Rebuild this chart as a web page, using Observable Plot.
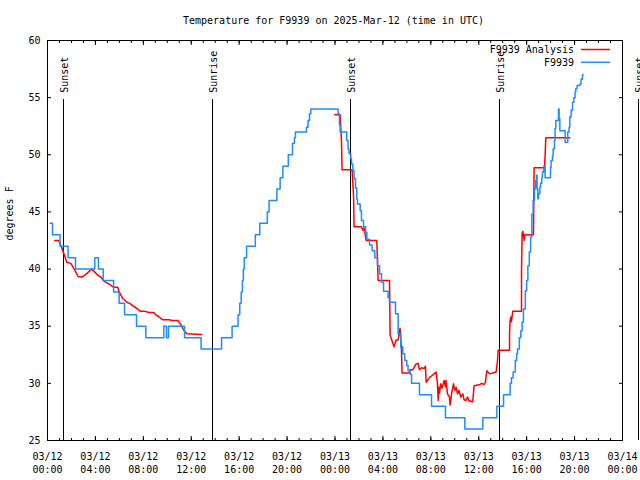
<!DOCTYPE html>
<html>
<head>
<meta charset="utf-8">
<script src="https://cdn.jsdelivr.net/npm/d3@7"></script>
<script src="https://cdn.jsdelivr.net/npm/@observablehq/plot@0.6"></script>
<style>
  body { margin: 0; background: #fff; }
  svg { display: block; }
</style>
</head>
<body>
<div id="chart"></div>
<script>
// ---- data (hours since 2025-03-12 00:00 UTC) ----
const titleText = "Temperature for F9939 on 2025-Mar-12 (time in UTC)";
const yLabelText = "degrees F";
const seriesNames = ["F9939 Analysis", "F9939"];
const seriesColors = ["#ff0000", "#1e8cff"];

// Observed F9939 (step changes)
const obsHours = [0.22,0.42,1.05,1.72,2.34,3.95,4.25,4.65,5.52,5.98,6.43,7.43,8.21,9.71,9.93,10.1,11.44,12.82,
  14.53,15.41,15.91,16.05,16.17,16.27,16.35,16.43,16.62,17.35,17.72,18.35,18.5,19.15,19.42,19.65,20.1,20.45,20.62,20.7,
  21.62,21.75,21.87,21.98,24.26,24.37,24.43,24.98,25.09,25.17,25.32,25.38,25.49,25.59,25.71,25.82,25.88,26.1,26.21,
  26.38,26.55,26.66,26.88,27.1,27.32,27.55,27.72,27.88,28.05,28.43,28.55,29.05,29.27,29.49,29.66,29.83,29.99,30.1,
  30.27,30.39,31.05,32.06,33.22,34.84,36.34,37.51,38.07,38.62,38.73,38.87,39.05,39.16,39.24,39.39,39.51,39.62,39.73,
  39.89,40.0,40.1,40.22,40.33,40.43,40.54,40.65,40.76,40.82,40.87,40.93,40.99,41.1,41.16,41.26,41.32,41.43,41.54,
  41.99,42.04,42.16,42.21,42.32,42.37,42.43,42.66,42.71,42.77,43.21,43.43,43.54,43.6,43.71,43.83,43.94,44.04,44.1,
  44.21,44.44,44.54,44.66,44.71];
const obsTemps = [44,43,42,41,40,41,40,39,38,37,36,35,34,35,34,35,34,33,
  34,35,36,37,38,39,40,41,42,43,44,45,46,47,48,49,50,51,51.5,52,
  52.4,53,53.6,54,53.6,52.6,52,51.25,50.5,50.1,49.65,49.2,48.6,47.9,47.1,46.1,45.7,45.1,44.25,
  43.7,43.2,42.6,42.1,41.6,41,40.3,39.6,38.85,38.06,37.5,37.1,36.1,34.3,33.2,32.6,32,31.56,31.1,
  30.8,30,29,28,27,26,27,28,29,30,30.5,31,32,32.6,33,34,34.6,35.35,36.5,
  38.1,39,40.3,41.5,42.8,44.8,46,47,47.75,48.2,47,46.15,46.6,47.2,47.5,48,48.5,49,48,
  48.9,49.5,49.9,50.5,51.25,52.3,53,54,53.15,52.1,51.1,52,52.4,53.3,53.9,54.6,55,55.5,55.8,
  56.06,56.2,56.6,57,57];

// F9939 Analysis (null = gap)
const anaHours = [0.61,0.94,1.17,1.39,1.61,1.95,2.28,2.55,2.89,3.28,3.67,3.89,4.17,4.45,4.7,5.12,5.53,5.87,5.98,
  6.14,6.31,6.48,6.65,6.87,7.1,7.31,7.54,7.76,8.15,8.48,8.87,9.04,9.27,9.48,9.65,10.15,10.43,10.88,11.04,11.21,
  11.32,11.49,11.65,12.88,13.0,
  23.98,24.43,24.54,24.59,25.43,25.55,25.59,26.21,26.32,26.43,26.6,27.49,27.6,28.55,28.6,28.93,29.1,29.27,29.43,
  29.55,29.6,30.22,30.27,30.5,30.6,30.77,30.94,31.05,31.22,31.44,31.55,31.61,31.89,32.0,32.27,32.44,32.56,32.61,
  32.67,32.72,32.83,32.94,33.11,33.22,33.27,33.39,33.56,33.61,33.73,33.89,34.0,34.11,34.23,34.34,34.5,34.67,34.78,
  34.94,35.06,35.17,35.34,35.5,35.61,36.11,36.23,36.45,36.56,36.67,36.9,37.18,37.45,37.57,37.62,38.57,38.57,38.62,
  38.68,38.73,38.84,39.57,39.57,39.62,39.68,39.79,39.84,40.57,40.62,41.49,41.55,41.6,43.6];
const anaTemps = [42.5,42.5,41.9,41.3,40.6,40.5,39.9,39.35,39.3,39.6,40.0,39.8,39.5,39.3,38.95,38.7,38.4,38.4,38.0,
  37.7,37.4,37.25,37.07,37.0,36.8,36.66,36.5,36.3,36.3,36.2,36.2,36.0,35.85,35.67,35.56,35.56,35.5,35.5,35.27,35.0,
  34.77,34.48,34.33,34.27,null,
  53.5,53.5,51.25,48.7,48.7,46.3,43.7,43.7,43.4,43.6,42.5,42.5,39.0,39.0,34.2,33.2,33.8,33.8,34.83,
  32.9,30.9,30.9,31.2,31.2,31.4,31.7,31.75,31.2,31.36,31.3,31.5,30.1,30.5,30.6,30.83,31.0,29.9,28.5,
  29.66,29.14,29.96,29.6,30.25,29.7,30.25,29.08,28.8,28.1,29.08,29.96,29.4,29.66,29.08,29.4,28.8,29.08,28.56,
  28.5,28.8,28.5,28.44,28.38,29.8,29.9,30.0,29.9,30.1,31.1,30.83,30.9,31.0,32.0,32.9,32.9,34.4,35.5,
  35.8,35.4,36.3,36.3,39.8,43.1,43.3,42.5,43.0,43.0,48.86,48.86,50.2,51.5,51.5];

// Sunrise / sunset markers
const sunHours = [1.30, 13.74, 25.26, 37.70, 49.30];
const sunLabels = ["Sunset", "Sunrise", "Sunset", "Sunrise", "Sunset"];

// Axis ticks
const yTicks = [25, 30, 35, 40, 45, 50, 55, 60];
const xMajorHours = [0, 4, 8, 12, 16, 20, 24, 28, 32, 36, 40, 44, 48];
const xMinorHours = d3.range(0, 49, 1);

// ---- build ----
const START = Date.UTC(2025, 2, 12);
const toDate = h => new Date(START + h * 3600e3);
const obs = obsHours.map((h, i) => ({t: toDate(h), v: obsTemps[i]}));
const ana = anaHours.map((h, i) => ({t: toDate(h), v: anaTemps[i]}));
const sun = sunHours.map((h, i) => ({t: toDate(h), label: sunLabels[i]}));
const xMajor = xMajorHours.map(toDate);
const xMinor = xMinorHours.map(toDate);
const FONT = "DejaVu Sans Mono";

function legendMark(index, scales, values, dims) {
  const right = dims.width - dims.marginRight;
  const g = d3.create("svg:g").attr("font-family", FONT).attr("font-size", 10);
  seriesNames.forEach((name, i) => {
    const y = dims.marginTop + 9.5 + i * 12.8;
    g.append("text").attr("x", right - 48).attr("y", y).attr("dy", "0.35em")
      .attr("text-anchor", "end").attr("fill", "black").text(name);
    g.append("line").attr("x1", right - 41).attr("x2", right - 12)
      .attr("y1", y).attr("y2", y).attr("stroke", seriesColors[i]).attr("stroke-width", 1.5);
  });
  return g.node();
}

const chart = Plot.plot({
  width: 640,
  height: 480,
  marginLeft: 47,
  marginRight: 18,
  marginTop: 40,
  marginBottom: 40,
  style: {fontFamily: FONT, fontSize: "10px", background: "white", color: "black", overflow: "visible"},
  x: {type: "utc", domain: [toDate(0), toDate(48)]},
  y: {domain: [25, 60]},
  marks: [
    Plot.frame({stroke: "black"}),
    Plot.axisY(yTicks, {tickSize: -4, tickPadding: 11, label: null}),
    Plot.axisY(yTicks, {anchor: "right", tickSize: -4, fill: "none", label: null}),
    Plot.axisX(xMajor, {tickSize: -4, tickPadding: 14, lineHeight: 1.33,
      tickFormat: d3.utcFormat("%m/%d\n%H:%M"), label: null}),
    Plot.axisX(xMinor, {tickSize: -2, fill: "none", label: null}),
    Plot.axisX(xMajor, {anchor: "top", tickSize: -4, fill: "none", label: null}),
    Plot.axisX(xMinor, {anchor: "top", tickSize: -2, fill: "none", label: null}),
    Plot.ruleX(sun, {x: "t", insetTop: 58.5, stroke: "black", shapeRendering: "crispEdges"}),
    Plot.text(sun, {x: "t", text: "label", frameAnchor: "top", dy: 52.3, dx: 1.5,
      rotate: -90, textAnchor: "start", lineAnchor: "middle", fill: "black"}),
    Plot.line(ana, {x: "t", y: "v", stroke: seriesColors[0], strokeWidth: 1.5}),
    Plot.line(obs, {x: "t", y: "v", stroke: seriesColors[1], strokeWidth: 1.5, curve: "step-after"}),
    Plot.text([titleText], {text: d => d, frameAnchor: "top", dy: -19.5, dx: -1.5, lineAnchor: "middle", fill: "black"}),
    Plot.text([yLabelText], {text: d => d, frameAnchor: "left", dx: -37.5, rotate: -90, lineAnchor: "middle", fill: "black"}),
    legendMark
  ]
});
document.getElementById("chart").append(chart);
</script>
</body>
</html>
